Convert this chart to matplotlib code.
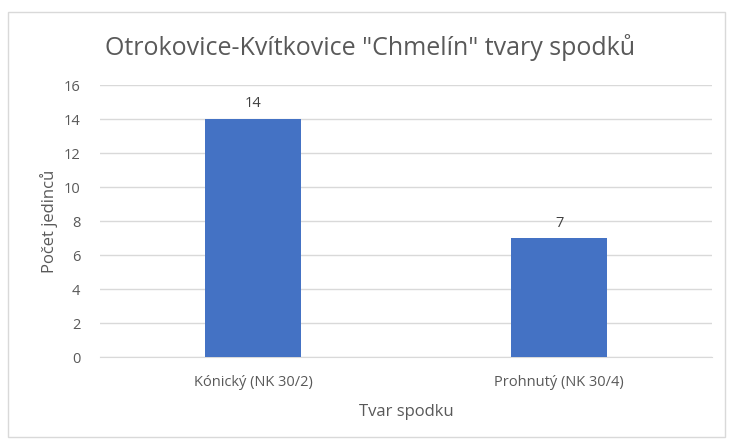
import matplotlib.pyplot as plt
from matplotlib.patches import Rectangle

# Data
categories = ['Kónický (NK 30/2)', 'Prohnutý (NK 30/4)']
counts = [14, 7]
y_ticks = [0, 2, 4, 6, 8, 10, 12, 14, 16]

text_color = '#595959'
plt.rcParams['font.family'] = ['Open Sans', 'DejaVu Sans']

fig = plt.figure(figsize=(7.29, 4.41), dpi=100)
ax = fig.add_axes([0.137, 0.190, 0.840, 0.617])

# outer chart border
fig.patches.append(Rectangle((8 / 729, 4 / 441), 717 / 729, 425 / 441,
                             transform=fig.transFigure, fill=False,
                             edgecolor='#D9D9D9', linewidth=1))

x = range(len(categories))
bars = ax.bar(x, counts, width=0.315, color='#4472C4', zorder=3)
for b, v in zip(bars, counts):
    ax.text(b.get_x() + b.get_width() / 2, v + 0.45, str(v),
            ha='center', va='bottom', fontsize=10.5, color='#404040')

ax.set_xlim(-0.5, 1.5)
ax.set_ylim(0, 16)
ax.set_yticks(y_ticks)
ax.set_xticks(list(x))
ax.set_xticklabels(categories)
ax.tick_params(axis='both', length=0, labelsize=10.5, colors=text_color)
ax.tick_params(axis='y', pad=14)
ax.tick_params(axis='x', pad=13)

ax.grid(axis='y', color='#D9D9D9', linewidth=1, zorder=0)
for s in ['top', 'right', 'left']:
    ax.spines[s].set_visible(False)
ax.spines['bottom'].set_color('#D9D9D9')

ax.set_xlabel('Tvar spodku', fontsize=12, color=text_color, labelpad=10)
ax.set_ylabel('Počet jedinců', fontsize=12, color=text_color, labelpad=4)
fig.text(0.507, 0.893, 'Otrokovice-Kvítkovice "Chmelín" tvary spodků',
         ha='center', va='center', fontsize=18, color=text_color)

plt.savefig('out.png', dpi=100)
